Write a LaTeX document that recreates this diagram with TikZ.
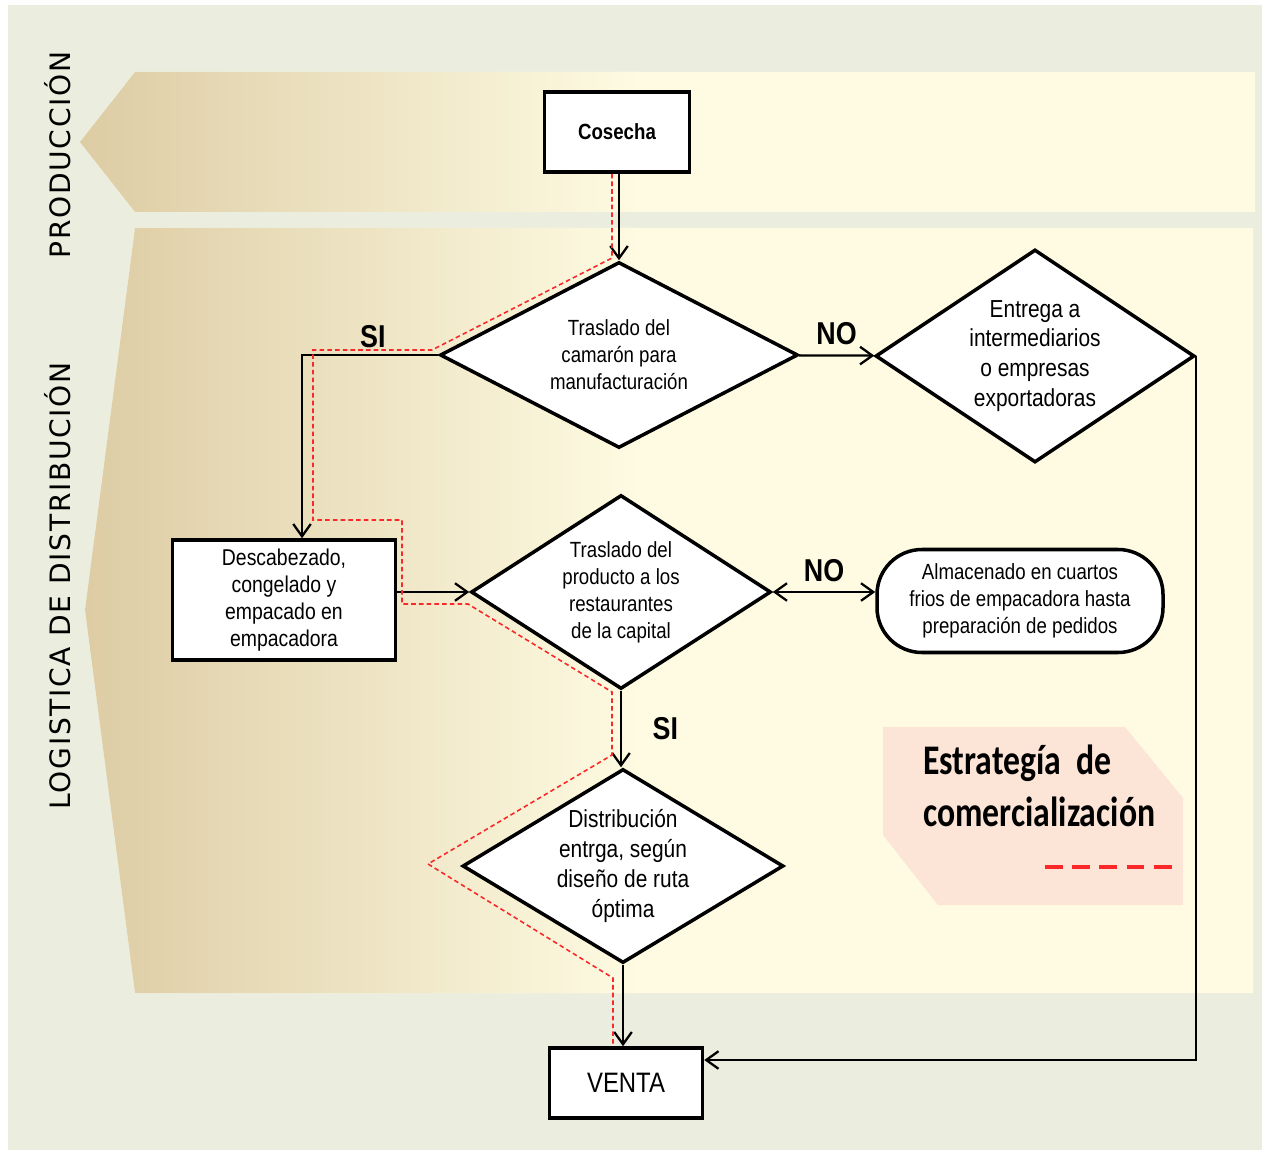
\documentclass[tikz,border=0pt]{standalone}
\usepackage{fontspec}
\usepackage{xcolor}
\usepackage{tikz}
\usetikzlibrary{shapes.geometric, arrows.meta, positioning, calc}

\setmainfont{Liberation Sans}
\newfontfamily\narrowsf[FakeStretch=0.85]{Liberation Sans}
\newfontfamily\bandsf[LetterSpace=6]{DejaVu Sans}
\newfontfamily\legendsf[FakeStretch=0.8]{Carlito}

\definecolor{bggreen}{RGB}{235,238,222}
\definecolor{bandcream}{RGB}{254,251,226}
\definecolor{bandtan}{RGB}{221,204,164}
\definecolor{legendpink}{RGB}{252,229,215}
\definecolor{routered}{RGB}{250,40,40}

\begin{document}
\begin{tikzpicture}[x=0.02cm, y=-0.02cm,
    decision/.style={diamond, draw, line width=2pt, fill=white, inner sep=-3pt, align=center, font=\narrowsf\fontsize{12.5}{15.3}\selectfont},
    process/.style={rectangle, draw, line width=2pt, fill=white, inner sep=0pt, align=center, font=\narrowsf\fontsize{13}{15.3}\selectfont},
    storage/.style={rectangle, rounded corners=0.9cm, draw, line width=2pt, fill=white, inner sep=0pt, align=center, font=\narrowsf\fontsize{12.5}{15.3}\selectfont},
    bigtext/.style={font=\narrowsf\fontsize{14}{17}\selectfont},
    answer/.style={font=\narrowsf\bfseries\fontsize{18}{18}\selectfont},
    lanetitle/.style={rotate=90, font=\bandsf\fontsize{16}{16}\selectfont},
    arrow/.style={-{Straight Barb[length=7pt,width=10pt]}, line width=1.3pt},
    route/.style={routered, line width=0.9pt, dash pattern=on 2.6pt off 1.8pt}
]
\useasboundingbox (0,0) rectangle (1267,1152);

% background and lanes
\fill[white] (0,0) rectangle (1267,1152);
\fill[bggreen] (8,5) rectangle (1262,1150);
\fill[bandcream] (135,72) -- (1255,72) -- (1255,212) -- (135,212) -- (80,142) -- cycle;
\shade[left color=bandtan, right color=bandcream] (135,72) -- (640,72) -- (640,212) -- (135,212) -- (80,142) -- cycle;
\fill[bandcream] (135,228) -- (1253,228) -- (1253,993) -- (135,993) -- (85,610) -- cycle;
\shade[left color=bandtan, right color=bandcream] (135,228) -- (640,228) -- (640,993) -- (135,993) -- (85,610) -- cycle;

\node[lanetitle] (prodtitle) at (58,155) {PRODUCCIÓN};
\node[lanetitle] (logtitle) at (58,586) {LOGISTICA DE DISTRIBUCIÓN};

% legend
\fill[legendpink] (883,727) -- (1125,727) -- (1183,798) -- (1183,905) -- (938,905) -- (883,835) -- cycle;
\node[anchor=north west, align=left, inner sep=0pt, font=\legendsf\bfseries\fontsize{24}{29.5}\selectfont] (legendtext) at (923,745) {Estrategía\ \ de\\comercialización};
\coordinate (legendA) at (1045,867);
\coordinate (legendB) at (1174,867);
\draw[routered, line width=2.5pt, dash pattern=on 10pt off 5.5pt] (legendA) -- (legendB);

% steps
\node[process, font=\narrowsf\bfseries\fontsize{12.5}{15}\selectfont, minimum width=145*0.02cm, minimum height=80*0.02cm] (cosecha) at (617,132) {Cosecha};
\node[decision, aspect=1.9, minimum width=358*0.02cm, minimum height=186*0.02cm] (trasladoA) at (619,355) {Traslado del\\camarón para\\manufacturación};
\node[decision, bigtext, aspect=1.5, minimum width=319*0.02cm, minimum height=213*0.02cm] (entrega) at (1035,356) {Entrega a\\intermediarios\\o empresas\\exportadoras};
\node[process, minimum width=223*0.02cm, minimum height=120*0.02cm] (descab) at (284,600) {Descabezado,\\congelado y\\empacado en\\empacadora};
\node[decision, aspect=1.55, minimum width=300*0.02cm, minimum height=194*0.02cm] (trasladoB) at (621,592) {Traslado del\\producto a los\\restaurantes\\de la capital};
\node[storage, minimum width=286*0.02cm, minimum height=103*0.02cm] (almacen) at (1020,601) {Almacenado en cuartos\\frios de empacadora hasta\\preparación de pedidos};
\node[decision, bigtext, aspect=1.65, minimum width=321*0.02cm, minimum height=194*0.02cm] (distrib) at (623,866) {Distribución\\entrga, según\\diseño de ruta\\óptima};
\node[process, font=\narrowsf\fontsize{16}{16}\selectfont, minimum width=153*0.02cm, minimum height=70*0.02cm] (venta) at (626,1083) {VENTA};

% connectors
\draw[arrow] (cosecha.south -| trasladoA.north) -- (trasladoA.north);
\draw[arrow] (trasladoA.west) -| node[answer, above, pos=0.24] {SI} ($(descab.north)+(18,0)$);
\draw[arrow] (trasladoA) -- node[answer, above, yshift=2pt] {NO} (entrega);
\draw[arrow] (descab.east |- trasladoB) -- (trasladoB.west);
\draw[{Straight Barb[length=7pt,width=10pt]}-{Straight Barb[length=7pt,width=10pt]}, line width=1.3pt] (trasladoB.east) -- node[answer, above, yshift=2pt] {NO} (trasladoB.east -| almacen.west);
\draw[arrow] (trasladoB.south) -- node[answer, right, xshift=14pt] {SI} (trasladoB.south |- distrib.north);
\draw[arrow] (distrib.south) -- (distrib.south |- venta.north);
\draw[arrow] (entrega.east) |- ([yshift=0.46cm]venta.east);

% route of the strategy
\draw[route] ([xshift=-0.1cm]cosecha.south) -- (612,258) -- (432,350) -- (313,350) -- (313,520) -- (402,520) -- (402,604) -- (468,604) -- (612,692) -- (612,755) -- (428,864) -- (613,978) -- ([xshift=-0.26cm]venta.north);

\end{tikzpicture}
\end{document}
